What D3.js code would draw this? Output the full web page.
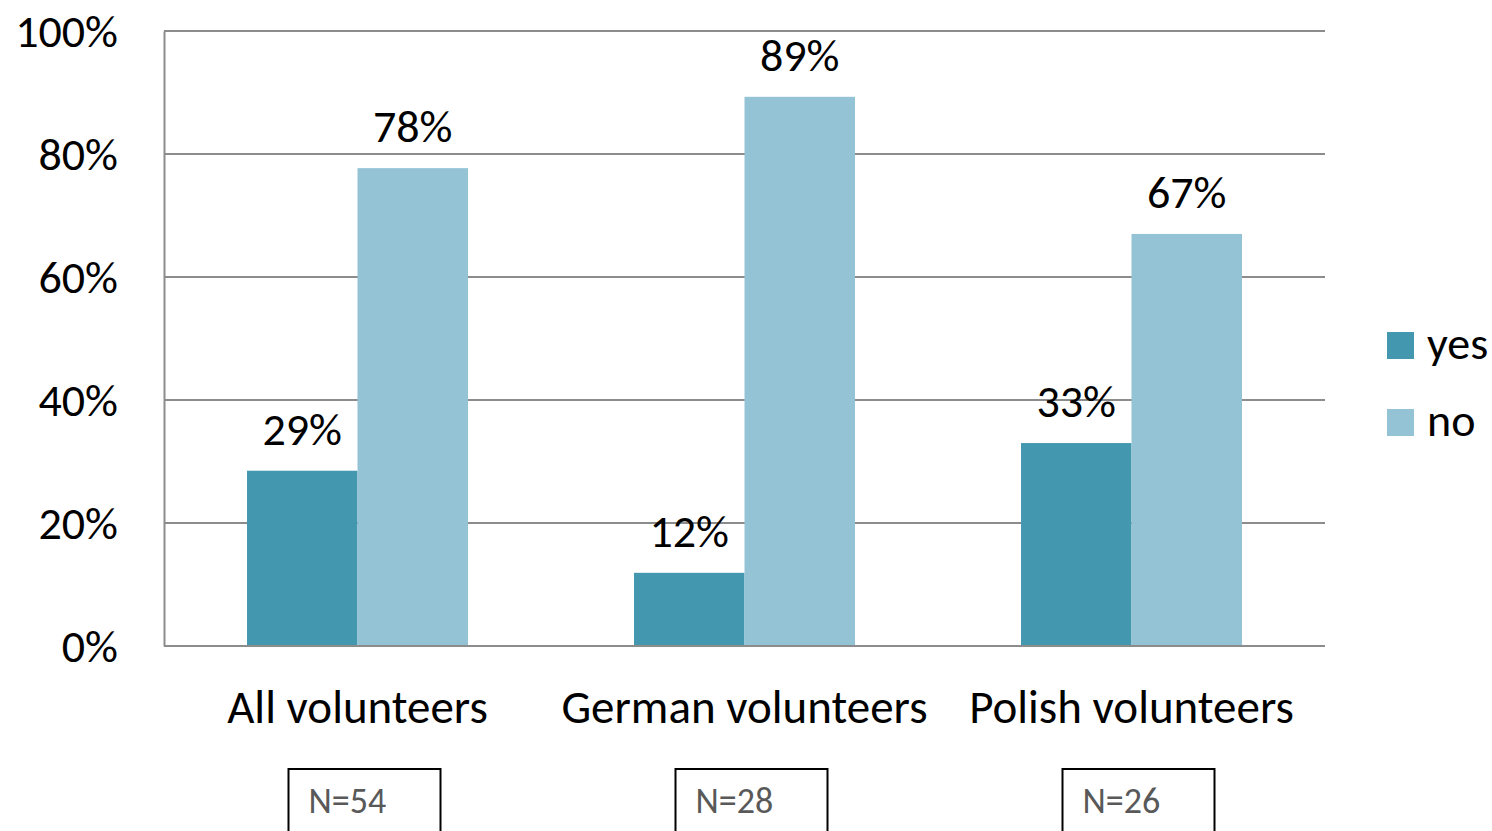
<!DOCTYPE html>
<html><head><meta charset="utf-8">
<script src="https://cdn.jsdelivr.net/npm/d3@7"></script>
<style>
html,body{margin:0;padding:0;background:#fff;}
text{font-family:Carlito, Calibri, Lato, "Open Sans", sans-serif;}
</style></head>
<body><svg id="c" width="1492" height="831"></svg>
<script>
const categories = ["All volunteers", "German volunteers", "Polish volunteers"];
const seriesNames = ["yes", "no"];
const yesValues = [28.5, 11.9, 33.0];
const noValues = [77.7, 89.3, 67.0];
const yesLabels = ["29%", "12%", "33%"];
const noLabels = ["78%", "89%", "67%"];
const sampleSizes = ["N=54", "N=28", "N=26"];
const yTicks = [0, 20, 40, 60, 80, 100];

const colors = {yes: "#4398B0", no: "#93C3D5"};
const svg = d3.select("#c");
const m = {left:164, right:1325, top:31, bottom:646};

const x = d3.scaleBand().domain(categories).range([m.left, m.right])
  .paddingInner(0.429).paddingOuter(0.2145);
const xs = d3.scaleBand().domain(seriesNames).range([0, x.bandwidth()]);
const y = d3.scaleLinear().domain([0, 100]).range([m.bottom, m.top]);

// gridlines
svg.append("g").selectAll("line").data(yTicks.filter(d=>d>0)).join("line")
  .attr("x1", m.left).attr("x2", m.right)
  .attr("y1", d=>y(d)).attr("y2", d=>y(d))
  .attr("stroke", "#8c8c8c").attr("stroke-width", 2);

// y axis
const yAxis = d3.axisLeft(y).tickValues(yTicks).tickFormat(d=>d+"%").tickSize(0).tickPadding(46);
const ga = svg.append("g").attr("transform", `translate(${m.left},0)`).call(yAxis);
ga.select(".domain").attr("stroke", "#8c8c8c").attr("stroke-width", 2);
ga.selectAll("text").attr("font-size", 46).attr("fill", "#000").attr("dy", "0.33em")
  .attr("font-family", "Carlito, Calibri, Lato, sans-serif");

const rows = categories.map((c,i)=>({cat:c, yes:yesValues[i], no:noValues[i], yl:yesLabels[i], nl:noLabels[i], n:sampleSizes[i]}));

const g = svg.append("g").selectAll("g").data(rows).join("g")
  .attr("transform", d=>`translate(${x(d.cat)},0)`);
seriesNames.forEach(s=>{
  g.append("rect")
    .attr("x", xs(s)).attr("width", xs.bandwidth())
    .attr("y", d=>y(d[s])).attr("height", d=>y(0)-y(d[s]))
    .attr("fill", colors[s]);
  g.append("text")
    .attr("x", xs(s)+xs.bandwidth()/2).attr("y", d=>y(d[s])-26)
    .attr("text-anchor", "middle").attr("font-size", 46).attr("fill", "#000")
    .text(d=> s==="yes" ? d.yl : d.nl);
});

// x axis line
svg.append("line").attr("x1", m.left).attr("x2", m.right)
  .attr("y1", y(0)).attr("y2", y(0)).attr("stroke", "#8c8c8c").attr("stroke-width", 2);

// category labels
svg.append("g").selectAll("text").data(categories).join("text")
  .attr("x", d=>x(d)+x.bandwidth()/2).attr("y", 723)
  .attr("text-anchor", "middle").attr("font-size", 47).attr("fill", "#000")
  .text(d=>d);

// N boxes
const nb = svg.append("g").selectAll("g").data(rows).join("g")
  .attr("transform", d=>`translate(${x(d.cat)+x.bandwidth()/2+7},0)`);
nb.append("rect").attr("x", -76).attr("y", 769).attr("width", 152).attr("height", 80)
  .attr("fill", "none").attr("stroke", "#000").attr("stroke-width", 2);
nb.append("text").attr("x", -56).attr("y", 813).attr("font-size", 36).attr("fill", "#595959")
  .text(d=>d.n);

// legend
const lg = svg.append("g").selectAll("g").data(seriesNames).join("g")
  .attr("transform", (d,i)=>`translate(1387,${332+i*77})`);
lg.append("rect").attr("width", 27).attr("height", 27).attr("fill", d=>colors[d]);
lg.append("text").attr("x", 40).attr("y", 27).attr("font-size", 46).attr("fill", "#000").text(d=>d);
</script></body></html>
